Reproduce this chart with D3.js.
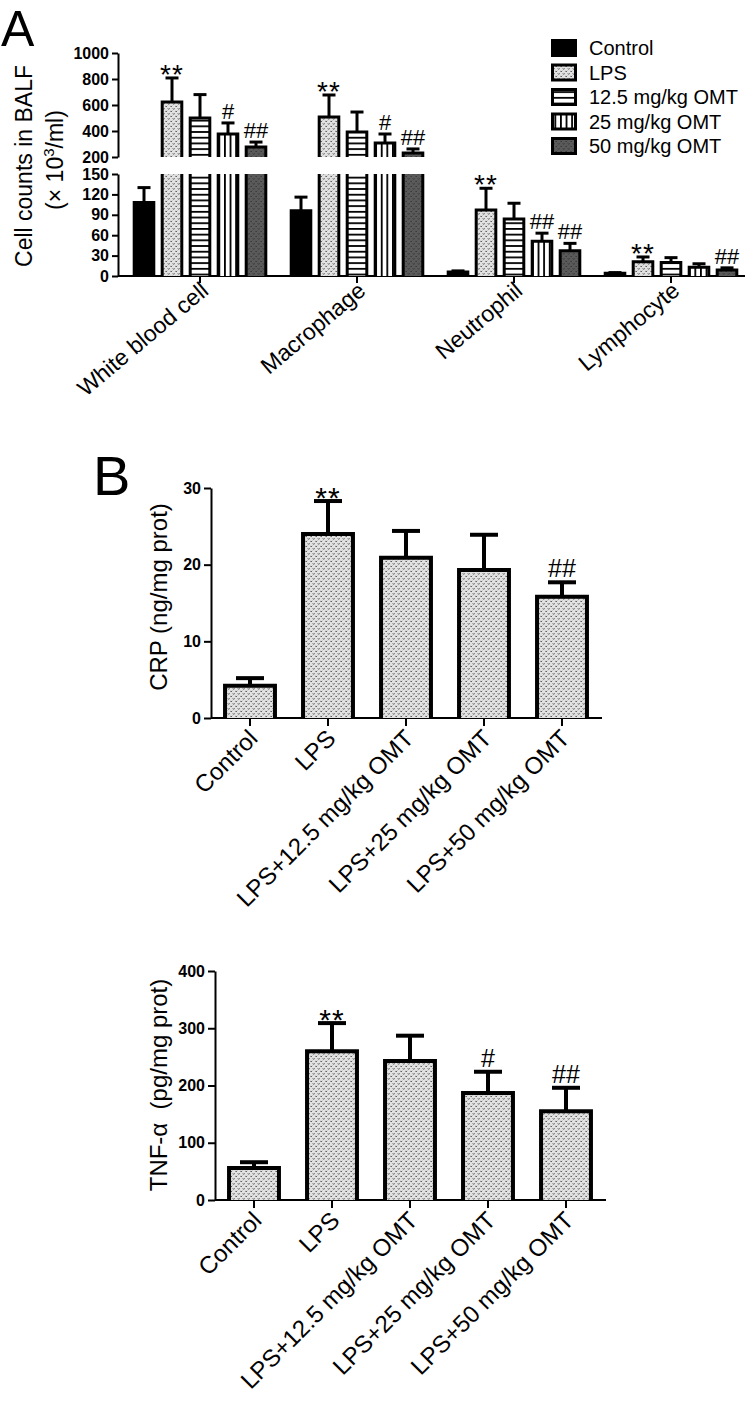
<!DOCTYPE html>
<html><head><meta charset="utf-8">
<script src="https://cdn.jsdelivr.net/npm/d3@7"></script>
<style>body{margin:0;background:#fff} svg{display:block;font-family:"Liberation Sans",Arial,sans-serif}</style>
</head><body><svg id="c" width="756" height="1411"></svg>
<script>
// ---------- DATA ----------
const cellCategories = ["White blood cell", "Macrophage", "Neutrophil", "Lymphocyte"];
const groups = ["Control", "LPS", "12.5 mg/kg OMT", "25 mg/kg OMT", "50 mg/kg OMT"];
// means per group (order of cellCategories)
const controlMean = [108, 96, 6, 4];
const lpsMean     = [623, 508, 97, 21];
const omt125Mean  = [500, 392, 84, 20];
const omt25Mean   = [377, 308, 51, 13];
const omt50Mean   = [277, 231, 37, 9];
// error (upper) per group
const controlErr = [22, 20, 1.5, 1];
const lpsErr     = [185, 169, 32, 7];
const omt125Err  = [180, 154, 23, 7];
const omt25Err   = [85, 69, 12, 5];
const omt50Err   = [38, 31, 11, 3];
// significance marks
const controlMark = ["", "", "", ""];
const lpsMark     = ["**", "**", "**", "**"];
const omt125Mark  = ["", "", "", ""];
const omt25Mark   = ["#", "#", "##", ""];
const omt50Mark   = ["##", "##", "##", "##"];
const ticksALow = [0, 30, 60, 90, 120, 150];
const ticksAUp  = [200, 400, 600, 800, 1000];

const treatments = ["Control", "LPS", "LPS+12.5 mg/kg OMT", "LPS+25 mg/kg OMT", "LPS+50 mg/kg OMT"];
const crpMean  = [4.2, 24.0, 20.9, 19.3, 15.8];
const crpErr   = [1.0, 4.3, 3.5, 4.6, 1.9];
const crpMarks = ["", "**", "", "", "##"];
const crpTicks = [0, 10, 20, 30];
const tnfMean  = [56, 260, 243, 187, 155];
const tnfErr   = [10, 49, 44, 37, 41];
const tnfMarks = ["", "**", "", "#", "##"];
const tnfTicks = [0, 100, 200, 300, 400];

// ---------- SETUP ----------
const svg = d3.select("#c");
const defs = svg.append("defs");
function stipple(id, bg, fg) {
  const p = defs.append("pattern").attr("id", id).attr("patternUnits", "userSpaceOnUse")
    .attr("width", 5).attr("height", 5);
  p.append("rect").attr("width", 5).attr("height", 5).attr("fill", bg);
  p.append("path").attr("d", "M0.3,0.8 L1.2,1.9 L2.1,0.8 M2.8,3.3 L3.7,4.4 L4.6,3.3")
    .attr("stroke", fg).attr("stroke-width", 0.8).attr("fill", "none");
}
stipple("dots", "#e2e2e2", "#3a3a3a");
stipple("darkdots", "#5a5a5a", "#2e2e2e");
{
  const p = defs.append("pattern").attr("id", "hlines").attr("patternUnits", "userSpaceOnUse")
    .attr("width", 6).attr("height", 5.7);
  p.append("rect").attr("width", 6).attr("height", 5.7).attr("fill", "#fff");
  p.append("rect").attr("y", 0).attr("width", 6).attr("height", 1.8).attr("fill", "#000");
  const q = defs.append("pattern").attr("id", "vlines").attr("patternUnits", "userSpaceOnUse")
    .attr("width", 5.6).attr("height", 6);
  q.append("rect").attr("width", 5.6).attr("height", 6).attr("fill", "#fff");
  q.append("rect").attr("x", 0).attr("width", 1.8).attr("height", 6).attr("fill", "#000");
}
const groupFill = ["#000", "url(#dots)", "url(#hlines)", "url(#vlines)", "url(#darkdots)"];
const groupMeans = [controlMean, lpsMean, omt125Mean, omt25Mean, omt50Mean];
const groupErrs = [controlErr, lpsErr, omt125Err, omt25Err, omt50Err];
const groupMarks = [controlMark, lpsMark, omt125Mark, omt25Mark, omt50Mark];

function styleAxis(g) {
  g.selectAll("path.domain").attr("stroke-width", 2);
  g.selectAll(".tick line").attr("stroke-width", 2);
  g.selectAll(".tick text").attr("font-size", 16).attr("font-weight", "bold")
    .attr("font-family", "'Liberation Sans',Arial,sans-serif").attr("fill", "#000");
}

// ---------- PANEL A ----------
svg.append("text").attr("x", 1).attr("y", 46).attr("font-size", 50).text("A");

const xA = d3.scaleBand().domain(cellCategories).range([121.5, 749.5]);
const xIn = d3.scaleBand().domain(groups).range([-70, 70]).paddingInner(0.3).paddingOuter(0.15);
const yLow = d3.scaleLinear().domain([0, 150]).range([276, 174]);
const yUp = d3.scaleLinear().domain([200, 1000]).range([157, 53]);
const axX = 118;

const gLow = svg.append("g").attr("transform", `translate(${axX},0)`)
  .call(d3.axisLeft(yLow).tickValues(ticksALow).tickFormat(d3.format("d")).tickSize(6).tickSizeOuter(0).tickPadding(3));
styleAxis(gLow);
const gUp = svg.append("g").attr("transform", `translate(${axX},0)`)
  .call(d3.axisLeft(yUp).tickValues(ticksAUp).tickFormat(d3.format("d")).tickSize(6).tickSizeOuter(0).tickPadding(3));
styleAxis(gUp);

// x axis
svg.append("line").attr("x1", axX).attr("x2", 745).attr("y1", yLow(0)).attr("y2", yLow(0))
  .attr("stroke", "#000").attr("stroke-width", 2);
const gxA = svg.append("g").attr("transform", `translate(0,${yLow(0)})`)
  .call(d3.axisBottom(xA).tickSize(7).tickFormat(""));
gxA.select("path.domain").remove();
gxA.selectAll(".tick line").attr("stroke-width", 2);

cellCategories.forEach((cat, ci) => {
  const center = xA(cat) + xA.bandwidth() / 2;
  groups.forEach((grp, gi) => {
    const v = groupMeans[gi][ci], e = groupErrs[gi][ci], m = groupMarks[gi][ci];
    const x = center + xIn(grp), w = xIn.bandwidth();
    const stroke = "#000";
    const lowTop = yLow(Math.min(v, 150));
    svg.append("rect").attr("x", x).attr("y", lowTop).attr("width", w).attr("height", yLow(0) - lowTop)
      .attr("fill", groupFill[gi]);
    let d;
    if (v <= 150) d = `M${x},${yLow(0)}V${lowTop}H${x + w}V${yLow(0)}`;
    else d = `M${x},${yLow(0)}V${yLow(150)}M${x + w},${yLow(150)}V${yLow(0)}`;
    svg.append("path").attr("d", d).attr("fill", "none").attr("stroke", stroke).attr("stroke-width", 3);
    let sc = yLow;
    if (v > 200) {
      sc = yUp;
      const t = yUp(v);
      svg.append("rect").attr("x", x).attr("y", t).attr("width", w).attr("height", yUp(200) - t)
        .attr("fill", groupFill[gi]);
      svg.append("path").attr("d", `M${x},${yUp(200)}V${t}H${x + w}V${yUp(200)}`)
        .attr("fill", "none").attr("stroke", stroke).attr("stroke-width", 3);
    }
    const cx = x + w / 2, yb = sc(v), ye = sc(v + e);
    svg.append("line").attr("x1", cx).attr("x2", cx).attr("y1", yb).attr("y2", ye)
      .attr("stroke", "#000").attr("stroke-width", 3);
    svg.append("line").attr("x1", cx - 6.5).attr("x2", cx + 6.5).attr("y1", ye).attr("y2", ye)
      .attr("stroke", "#000").attr("stroke-width", 3);
    if (m) {
      const star = m.includes("*");
      svg.append("text").attr("x", cx).attr("y", star ? ye + 6 : ye - 4)
        .attr("text-anchor", "middle").attr("font-size", star ? 28 : 22)
        .attr("letter-spacing", star ? 1 : 0).text(m);
    }
  });
  svg.append("text").attr("transform", `translate(${center + 10},${yLow(0) + 17}) rotate(-40)`)
    .attr("text-anchor", "end").attr("font-size", 23).text(cat);
});

// y label A
svg.append("text").attr("transform", `translate(32,166) rotate(-90)`).attr("text-anchor", "middle")
  .attr("font-size", 23).text("Cell counts in BALF");
const yl2 = svg.append("text").attr("transform", `translate(63,160) rotate(-90)`).attr("text-anchor", "middle")
  .attr("font-size", 23);
yl2.append("tspan").text("(× 10");
yl2.append("tspan").attr("font-size", 15).attr("dy", -9).text("3");
yl2.append("tspan").attr("dy", 9).text("/ml)");

// legend
groups.forEach((grp, gi) => {
  const yc = 48 + gi * 24.5;
  svg.append("rect").attr("x", 552.5).attr("y", yc - 7.5).attr("width", 23).attr("height", 15)
    .attr("fill", groupFill[gi]).attr("stroke", "#000").attr("stroke-width", 3);
  svg.append("text").attr("x", 589).attr("y", yc + 7).attr("font-size", 20).text(grp);
});

// ---------- PANEL B ----------
svg.append("text").attr("x", 93).attr("y", 495).attr("font-size", 56).text("B");

function panelB(opts) {
  const { axX, y0, yTopPx, max, ticks, mean, err, marks, label, labelY } = opts;
  const x = d3.scaleBand().domain(treatments).range([axX, axX + 390]).paddingInner(0.36).paddingOuter(0.18);
  const y = d3.scaleLinear().domain([0, max]).range([y0, yTopPx]);
  const gy = svg.append("g").attr("transform", `translate(${axX},0)`)
    .call(d3.axisLeft(y).tickValues(ticks).tickSize(7).tickSizeOuter(0).tickPadding(3));
  styleAxis(gy);
  svg.append("line").attr("x1", axX).attr("x2", axX + 391).attr("y1", y0).attr("y2", y0)
    .attr("stroke", "#000").attr("stroke-width", 2);
  const gx = svg.append("g").attr("transform", `translate(0,${y0})`)
    .call(d3.axisBottom(x).tickSize(8).tickFormat(""));
  gx.select("path.domain").remove();
  gx.selectAll(".tick line").attr("stroke-width", 2);
  treatments.forEach((t, i) => {
    const bx = x(t), w = x.bandwidth(), cx = bx + w / 2;
    const top = y(mean[i]);
    svg.append("rect").attr("x", bx).attr("y", top).attr("width", w).attr("height", y0 - top)
      .attr("fill", "url(#dots)");
    svg.append("path").attr("d", `M${bx},${y0}V${top}H${bx + w}V${y0}`).attr("fill", "none")
      .attr("stroke", "#000").attr("stroke-width", 4);
    const ye = y(mean[i] + err[i]);
    svg.append("line").attr("x1", cx).attr("x2", cx).attr("y1", top).attr("y2", ye)
      .attr("stroke", "#000").attr("stroke-width", 4);
    svg.append("line").attr("x1", cx - 14).attr("x2", cx + 14).attr("y1", ye).attr("y2", ye)
      .attr("stroke", "#000").attr("stroke-width", 4);
    if (marks[i]) {
      const star = marks[i].includes("*");
      svg.append("text").attr("x", cx).attr("y", star ? ye + 7 : ye - 5)
        .attr("text-anchor", "middle").attr("font-size", star ? 30 : 25)
        .attr("letter-spacing", star ? 1 : 0).text(marks[i]);
    }
    svg.append("text").attr("transform", `translate(${cx + 9},${y0 + 22}) rotate(-45)`)
      .attr("text-anchor", "end").attr("font-size", 24).text(t);
  });
  svg.append("text").attr("transform", `translate(167,${labelY}) rotate(-90)`).attr("text-anchor", "middle")
    .attr("font-size", 24).attr("xml:space", "preserve").text(label);
}

panelB({ axX: 211, y0: 718, yTopPx: 488, max: 30, ticks: crpTicks, mean: crpMean, err: crpErr,
  marks: crpMarks, label: "CRP (ng/mg prot)", labelY: 597 });
panelB({ axX: 215, y0: 1200, yTopPx: 971, max: 400, ticks: tnfTicks, mean: tnfMean, err: tnfErr,
  marks: tnfMarks, label: "TNF-α  (pg/mg prot)", labelY: 1085 });
</script></body></html>
